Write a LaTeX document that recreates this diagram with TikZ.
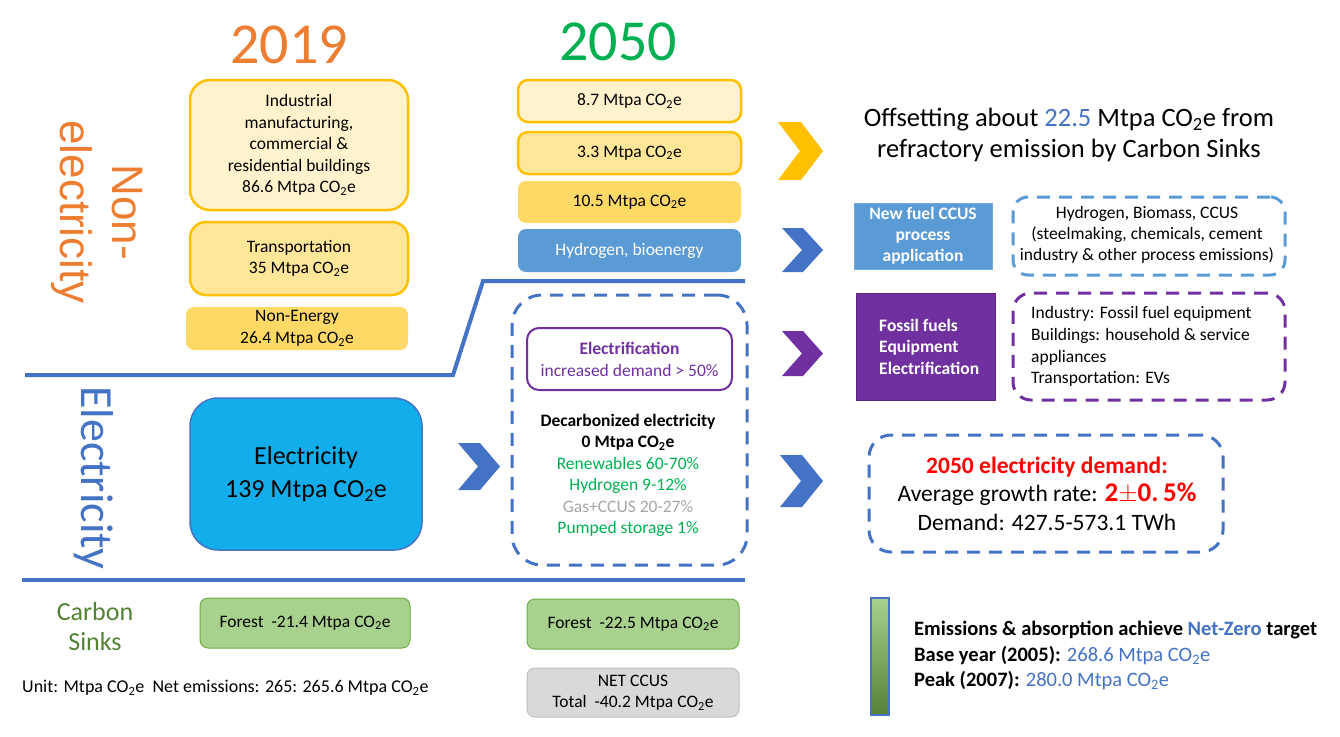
\documentclass[tikz,border=0pt]{standalone}
\usepackage{fontspec}
\setmainfont{Carlito}
\newfontfamily\arialf{Liberation Sans}
\newcommand\setfs[2]{\fontsize{#1}{#2}\selectfont}
\newcommand\cotwo{CO\textsubscript{2}e}
\definecolor{cOrange}{HTML}{ED7D31}
\definecolor{cGreenT}{HTML}{00B050}
\definecolor{cYel}{HTML}{FFC000}
\definecolor{cY1}{HTML}{FFF2CC}
\definecolor{cY2}{HTML}{FFE699}
\definecolor{cY3}{HTML}{FFD966}
\definecolor{cBlue}{HTML}{4472C4}
\definecolor{cSteel}{HTML}{5B9BD5}
\definecolor{cPurple}{HTML}{7030A0}
\definecolor{cCyan}{HTML}{12AEEC}
\definecolor{cForest}{HTML}{A9D18E}
\definecolor{cForestB}{HTML}{70AD47}
\definecolor{cDark}{HTML}{548235}
\definecolor{cGrayF}{HTML}{D9D9D9}
\definecolor{cGrayB}{HTML}{BFBFBF}
\definecolor{cGrayT}{HTML}{A6A6A6}
\definecolor{cRed}{HTML}{FF0000}
\newcommand\chevron[6]{\fill[#6] (#1,#2) -- ++({#3-#5},0) -- ++(#5,{#4/2}) -- ++(-#5,{#4/2}) -- ++({-#3+#5},0) -- ++(#5,{-#4/2}) -- cycle;}
\begin{document}
\begin{tikzpicture}[x=1pt,y=-1pt,
  txt/.style={align=center, inner sep=0pt, font=\setfs{17.5}{21.5}},
  ybox/.style={draw=cYel, line width=2.5pt, rounded corners=16pt, align=center, inner sep=0pt, font=\setfs{17.5}{21.5}},
  fbox/.style={rounded corners=8pt, align=center, inner sep=0pt, font=\setfs{17.5}{21.5}},
  dbox/.style={dash pattern=on 13pt off 9pt, line width=3pt, inner sep=0pt},
  sepline/.style={draw=cBlue, line width=4pt}
]
\useasboundingbox (0,0) rectangle (1340,736);
% titles
\node[anchor=base, inner sep=0pt, font=\setfs{58}{60}, text=cOrange] (y2019) at (289,63) {2019};
\node[anchor=base, inner sep=0pt, font=\setfs{58}{60}, text=cGreenT] (y2050) at (618,60) {2050};
% side labels
\node[rotate=-90, align=center, inner sep=0pt, font=\arialf\setfs{44}{52}, text=cOrange] (nonel) at (97,212) {Non-\\electricity};
\node[rotate=-90, inner sep=0pt, font=\setfs{46}{50}, text=cBlue] (elec) at (94,478) {Electricity};
\node[txt, font=\setfs{26}{30}, text=cDark] (sinks) at (95,627) {Carbon\\Sinks};
% separators
\draw[sepline] (25,375) -- (453,375) -- (483,281) -- (745,281);
\draw[sepline] (22,580) -- (745,580);
% 2019 column
\node[ybox, fill=cY1, minimum width=218pt, minimum height=130pt, rounded corners=20pt] (ind) at (299,145) {Industrial\\manufacturing,\\commercial \&\\residential buildings\\86.6 Mtpa \cotwo};
\node[ybox, fill=cY2, minimum width=218pt, minimum height=73pt] (trans) at (299,258.5) {Transportation\\35 Mtpa \cotwo};
\node[fbox, fill=cY3, minimum width=222pt, minimum height=43pt] (nonen) at (297,328.5) {Non-Energy\\26.4 Mtpa \cotwo};
\node[draw=cBlue, line width=1.5pt, fill=cCyan, rounded corners=28pt, minimum width=232pt, minimum height=152pt, align=center, font=\setfs{26}{33}] (elbox) at (306,474) {Electricity\\139 Mtpa \cotwo};
\node[fbox, draw=cForestB, line width=1pt, fill=cForest, minimum width=210pt, minimum height=50pt] (for1) at (305,623) {Forest\ \ -21.4 Mtpa \cotwo};
\node[anchor=west, inner sep=0pt, font=\setfs{18}{21.5}] (unit) at (22,688) {Unit: Mtpa \cotwo\ \ Net emissions: 265: 265.6 Mtpa \cotwo};
% 2050 column
\node[ybox, fill=cY1, minimum width=223pt, minimum height=42pt, rounded corners=10pt] (b87) at (629.5,101) {8.7 Mtpa \cotwo};
\node[ybox, fill=cY2, minimum width=223pt, minimum height=42pt, rounded corners=10pt] (b33) at (629.5,153) {3.3 Mtpa \cotwo};
\node[fbox, fill=cY3, minimum width=223pt, minimum height=42pt] (b105) at (629.5,202) {10.5 Mtpa \cotwo};
\node[fbox, fill=cSteel, text=white, minimum width=223pt, minimum height=43pt] (hyb) at (629.5,250.5) {Hydrogen, bioenergy};
\node[dbox, draw=cBlue, rounded corners=30pt, minimum width=235pt, minimum height=270pt] (decbox) at (629.5,430) {};
\node[draw=cPurple, line width=2pt, fill=white, rounded corners=12pt, minimum width=205pt, minimum height=62pt, align=center, inner sep=0pt, font=\setfs{17.5}{22}, text=cPurple] (electr) at (629.5,359) {\textbf{Electrification}\\increased demand > 50\%};
\node[txt] (dectxt) at (628,475.5) {\textbf{Decarbonized electricity}\\\textbf{0 Mtpa \cotwo}\\\textcolor{cGreenT}{Renewables 60-70\%}\\\textcolor{cGreenT}{Hydrogen 9-12\%}\\\textcolor{cGrayT}{Gas+CCUS 20-27\%}\\\textcolor{cGreenT}{Pumped storage 1\%}};
\node[fbox, draw=cForestB, line width=1pt, fill=cForest, minimum width=212pt, minimum height=50pt] (for2) at (633,624) {Forest\ \ -22.5 Mtpa \cotwo};
\node[fbox, draw=cGrayB, line width=1pt, fill=cGrayF, minimum width=212pt, minimum height=49pt] (ccus) at (633,692.5) {NET CCUS\\Total\ \ -40.2 Mtpa \cotwo};
% chevrons
\chevron{458}{443}{42}{47}{20}{cBlue}
\chevron{778}{122}{45}{58}{22}{cYel}
\chevron{782}{228}{41}{44}{20}{cBlue}
\chevron{782}{331}{41}{45}{20}{cPurple}
\chevron{780}{455}{43}{52}{21}{cBlue}
% right column
\node[txt, font=\setfs{26.5}{31}] (offset) at (1069,135) {Offsetting about \textcolor{cBlue}{22.5} Mtpa \cotwo{} from\\refractory emission by Carbon Sinks};
\node[fill=cSteel, draw=cSteel!85!white, line width=1pt, minimum width=138pt, minimum height=66pt, align=center, inner sep=0pt, text=white, font=\bfseries\setfs{17.5}{21}] (newfuel) at (923,236) {New fuel CCUS\\process\\application};
\node[dbox, draw=cSteel, rounded corners=15pt, minimum width=272pt, minimum height=78pt] (hydbox) at (1149,236) {};
\node[txt, font=\setfs{17.5}{21}] (hydtxt) at (1147,234.5) {Hydrogen, Biomass, CCUS\\(steelmaking, chemicals, cement\\industry \& other process emissions)};
\node[fill=cPurple, draw=cPurple!80!black, line width=1pt, minimum width=139pt, minimum height=107pt, inner sep=0pt] (fossil) at (925.5,346.5) {};
\node[anchor=west, align=left, inner sep=0pt, text=white, font=\bfseries\setfs{17.5}{21.5}] (fossiltxt) at (879,346.5) {Fossil fuels\\Equipment\\Electrification};
\node[dbox, draw=cPurple, rounded corners=18pt, minimum width=272pt, minimum height=107pt] (purbox) at (1149,346.5) {};
\node[anchor=west, align=left, inner sep=0pt, font=\setfs{17.5}{21.7}] (purtxt) at (1031,346.5) {Industry: Fossil fuel equipment\\Buildings: household \& service\\appliances\\Transportation: EVs};
\node[dbox, draw=cBlue, rounded corners=22pt, minimum width=354pt, minimum height=117pt] (dembox) at (1046,493.5) {};
\node[txt, font=\setfs{23.5}{28.5}] (demtxt) at (1047,493.5) {\textcolor{cRed}{\bfseries 2050 electricity demand:}\\Average growth rate: \textcolor{cRed}{\bfseries\setfs{27}{28.5}2$\pm$0.\,5\%}\\Demand: 427.5-573.1 TWh};
\shade[top color=cForest, bottom color=cDark, draw=cBlue, line width=1.5pt] (871,598) rectangle (889,715);
\node[anchor=west, align=left, inner sep=0pt, font=\setfs{20.5}{25.5}] (netzero) at (914,655.5) {\textbf{Emissions \& absorption achieve \textcolor{cBlue}{Net-Zero} target}\\\textbf{Base year (2005):} \textcolor{cBlue}{268.6 Mtpa \cotwo}\\\textbf{Peak (2007):} \textcolor{cBlue}{280.0 Mtpa \cotwo}};
\end{tikzpicture}
\end{document}
